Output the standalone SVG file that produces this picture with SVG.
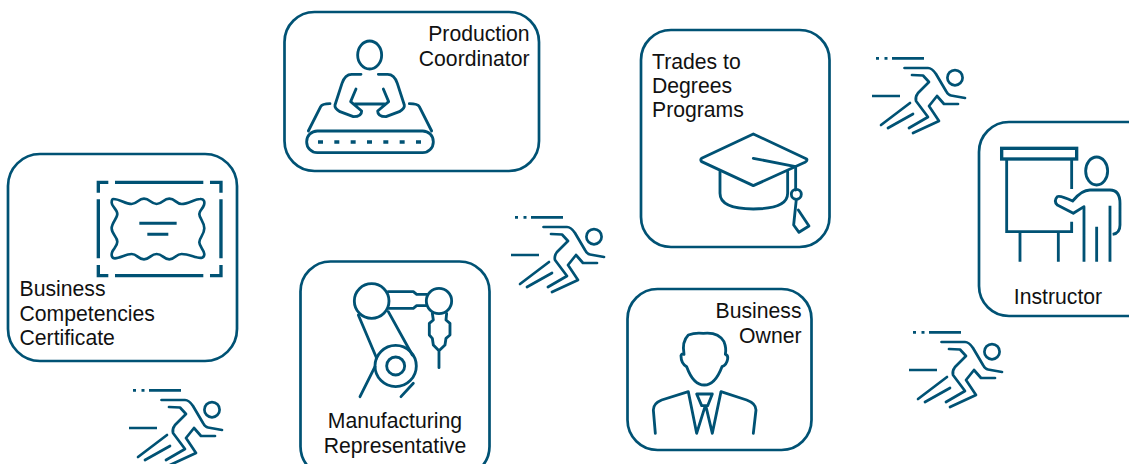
<svg xmlns="http://www.w3.org/2000/svg" width="1129" height="464" viewBox="0 0 1129 464">
<style>
.box{fill:#fff;stroke:#005274;stroke-width:2.7}
.ic{fill:none;stroke:#005274;stroke-width:8.5;stroke-linecap:round;stroke-linejoin:round}
.b{stroke-linecap:butt;stroke-linejoin:miter}
.run{fill:none;stroke:#005274;stroke-width:2.7;stroke-linecap:round;stroke-linejoin:round}
text{font-family:"Liberation Sans",Arial,sans-serif;font-size:21.2px;fill:#111}
.e{text-anchor:end}.m{text-anchor:middle}
</style>
<defs>
<g id="runner" class="run">
<path stroke-linecap="butt" d="M10 12.3H13M18.5 12.3H21.5M26 12.3H58M6 50H34"/>
<circle cx="89" cy="31.7" r="7.6"/>
<path d="M38.5 22H62Q66 22 70 28L80 45Q82 49 85 49.5L99 52"/>
<path d="M46 29L57 29.5L63 36L52 47Q49 51 50 55L62 71L43 82"/>
<path d="M71 50L63 60L73 75L47 87M71 50L78 58H92"/>
<path d="M44 57L15 79M47 68L22 82"/>
</g>
</defs>
<g id="connectors"/>
<g id="node-certificate">
<rect class="box" x="8" y="154" width="229" height="207" rx="32"/>
<g class="ic b" transform="translate(0,150) scale(.3333)">
<path style="stroke-width:10" d="M295 128V97H325M345 97H610M630 97H663V128M663 148V325M663 345V377H630M610 377H345M325 377H295V345M295 325V148"/>
<path style="stroke-linejoin:round;stroke-linecap:round;stroke-width:8" d="M340 147C360 147 375 162 395 162C412 162 415 146 432 146C450 146 452 162 470 162C488 162 490 146 508 146C526 146 528 162 545 162C565 162 585 147 600 147C612 146 615 155 612 165C608 178 598 180 598 192C598 205 613 215 613 235C613 255 598 262 598 277C598 290 613 300 613 312C613 325 603 325 590 322C575 318 560 312 545 312C527 312 527 328 508 328C490 328 488 312 470 312C452 312 450 328 432 328C414 328 412 312 395 312C378 312 360 325 345 325C335 325 333 315 337 305C342 295 352 288 352 275C352 260 335 252 335 235C335 218 352 205 352 192C352 178 335 170 335 158C335 150 337 147 340 147Z"/>
<path style="stroke-width:9" d="M418 220H530M442 253H505"/>
</g>
<text x="19.500" y="296">Business</text>
<text x="19.500" y="320.700">Competencies</text>
<text x="19.500" y="345.300">Certificate</text>
</g>
<g id="node-production">
<rect class="box" x="284.500" y="12" width="254.500" height="159" rx="30"/>
<g class="ic" transform="translate(280,5) scale(.3333)">
<ellipse cx="269" cy="150" rx="36" ry="42"/>
<path d="M243 208H215Q195 208 186 235L165 300Q163 310 180 320L220 335Q245 335 245 318L212 290L228 252M225 297H313M295 208H323Q343 208 352 235L373 300Q375 310 358 320L318 335Q293 335 293 318L326 290L310 252"/>
<rect x="80" y="378" width="380" height="65" rx="32"/>
<path d="M85 378L122 305Q127 296 150 296M455 378L418 305Q413 296 388 296"/>
<path class="b" style="stroke-width:10" d="M114 411H129M163 411H178M212 411H227M261 411H276M310 411H325M359 411H374M408 411H423"/>
</g>
<text class="e" x="529.500" y="41.400">Production</text>
<text class="e" x="529.500" y="66">Coordinator</text>
</g>
<g id="node-manufacturing">
<rect class="box" x="300.500" y="261.500" width="189" height="215" rx="30"/>
<g class="ic" transform="translate(295,255) scale(.3333)">
<circle cx="230" cy="138" r="52"/>
<circle cx="432" cy="138" r="38"/>
<path d="M280 110H355L365 118H395M280 160H355L365 152H395"/>
<circle cx="302" cy="333" r="62"/>
<circle cx="302" cy="333" r="27"/>
<path d="M190 180L245 310M280 170L352 300M240 335L195 425M355 385L318 425"/>
<path d="M412 175L415 195L403 205V240L412 250L415 270L432 287L450 270L453 250L465 240V205L453 195L455 175M432 287V338"/>
</g>
<text class="m" x="395" y="428.400">Manufacturing</text>
<text class="m" x="395" y="453.400">Representative</text>
</g>
<g id="node-trades">
<rect class="box" x="641" y="30" width="188.500" height="217" rx="30"/>
<g class="ic" transform="translate(635,25) scale(.3333)">
<path d="M355 327L515 402Q518 407 510 412L355 482L200 410Q195 405 200 400Z"/>
<path d="M355 400L482 425V495"/>
<circle cx="484" cy="508" r="15"/>
<path d="M484 523L476 600L492 622L522 603L490 555"/>
<path d="M255 440V505Q255 552 355 552Q458 552 458 505V440"/>
</g>
<text x="652" y="68.700">Trades to</text>
<text x="652" y="93.300">Degrees</text>
<text x="652" y="117.300">Programs</text>
</g>
<g id="node-owner">
<rect class="box" x="627.500" y="289" width="184" height="161" rx="30"/>
<g class="ic" transform="translate(620,285) scale(.3333)">
<path d="M253 300Q220 300 200 245Q183 235 183 212Q185 205 192 208Q185 170 205 150Q225 142 250 145Q295 140 312 170Q320 190 316 208Q325 210 323 222Q320 240 306 245Q285 300 253 300Z"/>
<path d="M106 445L100 375Q100 355 125 345L205 320L230 445L255 365M400 445L408 375Q408 355 380 345L303 320L277 445L258 365"/>
<path d="M230 327H277L263 362H245Z"/>
</g>
<text class="e" x="801.500" y="318">Business</text>
<text class="e" x="801.500" y="342.800">Owner</text>
</g>
<g id="node-instructor">
<rect class="box" x="979" y="122" width="180" height="194" rx="30"/>
<g class="ic b" transform="translate(970,115) scale(.3333)">
<rect x="95" y="100" width="225" height="32" style="stroke-width:10"/>
<path d="M110 132V350H305V320M305 132V222M150 352V440M265 352V440"/>
<ellipse cx="380" cy="168" rx="33" ry="42"/>
<path style="stroke-linejoin:round" d="M342 440V275L310 295L262 270Q250 258 262 245Q270 240 308 258Q335 225 360 225H420Q450 225 450 265V330Q450 355 428 358M420 272V440M380 335V440"/>
</g>
<text class="m" x="1058" y="304.300">Instructor</text>
</g>
<g id="runner-1"><use href="#runner" x="123" y="378"/></g>
<g id="runner-2"><use href="#runner" x="505" y="205"/></g>
<g id="runner-3"><use href="#runner" x="866" y="46"/></g>
<g id="runner-4"><use href="#runner" x="903" y="320"/></g>
</svg>
